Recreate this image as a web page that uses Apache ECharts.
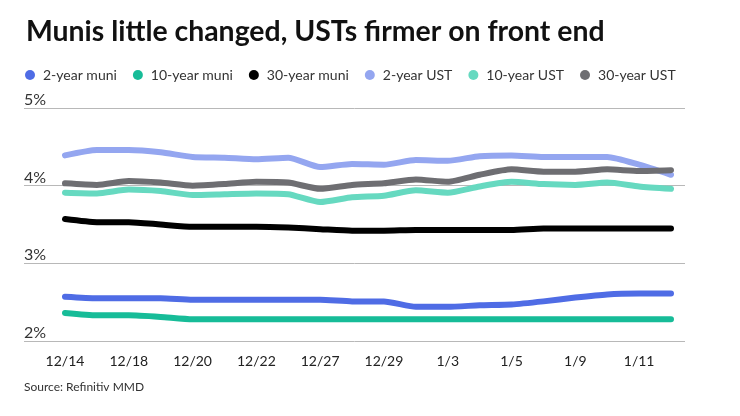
<!DOCTYPE html>
<html>
<head>
<meta charset="utf-8">
<script src="https://cdn.jsdelivr.net/npm/echarts@6/dist/echarts.min.js"></script>
<style>
html,body{margin:0;padding:0;background:#fff;}
#chart{width:740px;height:416px;}
</style>
</head>
<body>
<div id="chart"></div>
<script>
const categories = ['12/14','12/15','12/18','12/19','12/20','12/21','12/22','12/26','12/27','12/28','12/29','1/2','1/3','1/4','1/5','1/8','1/9','1/10','1/11','1/12'];
const muni2 = [2.57,2.55,2.55,2.55,2.53,2.53,2.53,2.53,2.53,2.51,2.51,2.44,2.44,2.46,2.47,2.51,2.56,2.60,2.61,2.61];
const muni10 = [2.36,2.33,2.33,2.31,2.28,2.28,2.28,2.28,2.28,2.28,2.28,2.28,2.28,2.28,2.28,2.28,2.28,2.28,2.28,2.28];
const muni30 = [3.57,3.53,3.53,3.50,3.47,3.47,3.47,3.46,3.44,3.42,3.42,3.43,3.43,3.43,3.43,3.45,3.45,3.45,3.45,3.45];
const ust2 = [4.39,4.46,4.46,4.43,4.37,4.36,4.34,4.36,4.24,4.28,4.27,4.33,4.32,4.38,4.39,4.37,4.37,4.37,4.27,4.14];
const ust10 = [3.91,3.90,3.95,3.93,3.88,3.89,3.90,3.89,3.79,3.85,3.87,3.94,3.91,3.99,4.05,4.02,4.01,4.04,3.99,3.96];
const ust30 = [4.03,4.01,4.06,4.04,4.00,4.02,4.05,4.04,3.96,4.01,4.03,4.08,4.05,4.14,4.21,4.18,4.18,4.21,4.19,4.20];
const yTicks = [2,3,4,5];

const names = ['2-year muni','10-year muni','30-year muni','2-year UST','10-year UST','30-year UST'];
const colors = ['#4f6ce5','#17bc98','#000000','#94a6f0','#66d9c0','#6e6e72'];
const seriesData = [muni2, muni10, muni30, ust2, ust10, ust30];

const chart = echarts.init(document.getElementById('chart'));
const FONT = 'Lato';
chart.setOption({
  animation: false,
  backgroundColor: '#fff',
  title: {
    text: 'Munis little changed, USTs firmer on front end',
    left: 21, top: 13,
    textStyle: {fontFamily: FONT, fontWeight: 'bold', fontSize: 28.4, color: '#111'}
  },
  legend: {
    left: 20, top: 63,
    icon: 'circle', itemWidth: 16, itemHeight: 10, itemGap: 16,
    textStyle: {fontFamily: FONT, fontSize: 14, color: '#333'},
    data: names
  },
  graphic: [{
    type: 'text', left: 24, top: 381,
    style: {text: 'Source: Refinitiv MMD', font: '12px Lato', fill: '#333'}
  }],
  grid: [
    {left: 24, right: 55, top: 108, bottom: 75},
    {left: 65, right: 69, top: 108, bottom: 75}
  ],
  xAxis: [
    {type: 'value', gridIndex: 0, min: 0, max: 1, show: false},
    {type: 'category', gridIndex: 1, data: categories, boundaryGap: false,
     axisLine: {show: false}, axisTick: {show: false},
     axisLabel: {interval: 1, margin: 13, fontFamily: FONT, fontSize: 14, color: '#222'}}
  ],
  yAxis: [
    {type: 'value', gridIndex: 0, min: yTicks[0], max: yTicks[yTicks.length-1], interval: 1,
     axisLine: {show: false}, axisTick: {show: false},
     splitLine: {lineStyle: {color: '#b8b8b8', width: 1}},
     axisLabel: {inside: true, margin: 0, verticalAlign: 'bottom', align: 'left',
       fontFamily: FONT, fontSize: 16, color: '#333', formatter: v => v + '%'}},
    {type: 'value', gridIndex: 1, min: yTicks[0], max: yTicks[yTicks.length-1], show: false}
  ],
  series: names.map((n, i) => ({
    name: n, type: 'line', xAxisIndex: 1, yAxisIndex: 1,
    data: seriesData[i], showSymbol: false, smooth: 0.2,
    itemStyle: {color: colors[i]},
    lineStyle: {color: colors[i], width: 6, cap: 'round', join: 'round'}
  }))
});
</script>
</body>
</html>
